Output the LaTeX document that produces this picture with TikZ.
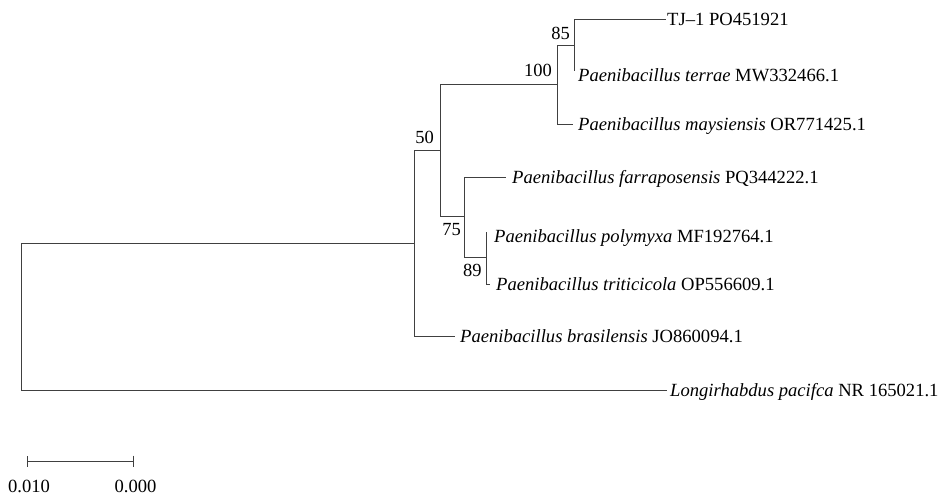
\documentclass[tikz,border=0pt]{standalone}
\usepackage{fontspec}
\setmainfont{Liberation Serif}
\usetikzlibrary{arrows.meta}
\begin{document}
\begin{tikzpicture}[x=1pt,y=-1pt,
  br/.style={draw=black!75, line width=1pt},
  leaf/.style={anchor=base west, inner sep=0pt, font=\fontsize{18.6}{22}\selectfont},
  boot/.style={anchor=base east, inner sep=0pt, font=\fontsize{18.5}{22}\selectfont},
  sclab/.style={anchor=base, inner sep=0pt, font=\fontsize{18.6}{22}\selectfont}]
\useasboundingbox (0,0) rectangle (942,497);
% internal nodes
\coordinate (root) at (21,316.5);
\coordinate (nIn) at (414,243.5);
\coordinate (n50) at (440,151);
\coordinate (n100) at (557,85);
\coordinate (n85) at (574,46);
\coordinate (n75) at (464,217);
\coordinate (n89) at (486,257);
% leaf tips
\coordinate (tTJ) at (666,19.5);
\coordinate (tTer) at (574,71);
\coordinate (tMay) at (573,125);
\coordinate (tFar) at (506,178);
\coordinate (tPol) at (486,232);
\coordinate (tTri) at (490,284);
\coordinate (tBra) at (455,336);
\coordinate (tLon) at (667,390);
% branches
\draw[br] (root) |- (nIn);
\draw[br] (root) |- (tLon);
\draw[br] (nIn) |- (n50);
\draw[br] (nIn) |- (tBra);
\draw[br] (n50) |- (n100);
\draw[br] (n50) |- (n75);
\draw[br] (n100) |- (n85);
\draw[br] (n100) |- (tMay);
\draw[br] (n85) |- (tTJ);
\draw[br] (n85) -- (tTer);
\draw[br] (n75) |- (tFar);
\draw[br] (n75) |- (n89);
\draw[br] (n89) -- (tPol);
\draw[br] (n89) |- (tTri);
% leaf labels
\node[leaf] (lTJ) at (667,25.5) {TJ–1 PO451921};
\node[leaf] (lTer) at (578,82) {\textit{Paenibacillus terrae} MW332466.1};
\node[leaf] (lMay) at (578,131) {\textit{Paenibacillus maysiensis} OR771425.1};
\node[leaf] (lFar) at (512,184) {\textit{Paenibacillus farraposensis} PQ344222.1};
\node[leaf] (lPol) at (494,242) {\textit{Paenibacillus polymyxa} MF192764.1};
\node[leaf] (lTri) at (496,290) {\textit{Paenibacillus triticicola} OP556609.1};
\node[leaf] (lBra) at (460,342) {\textit{Paenibacillus brasilensis} JO860094.1};
\node[leaf] (lLon) at (670,396) {\textit{Longirhabdus pacifca} NR 165021.1};
% bootstrap values
\node[boot] (b85) at (570,39.3) {85};
\node[boot] (b100) at (552,77) {100};
\node[boot] (b50) at (434,143.3) {50};
\node[boot] (b75) at (461,236) {75};
\node[boot] (b89) at (481.7,276.7) {89};
% scale bar
\coordinate (sbL) at (27.3,461);
\coordinate (sbR) at (134.3,461);
\draw[br, {Bar[width=11pt]}-{Bar[width=11pt]}] (sbL) -- (sbR);
\node[sclab] (sl1) at (29,492.7) {0.010};
\node[sclab] (sl2) at (135.5,492.7) {0.000};
\end{tikzpicture}
\end{document}
